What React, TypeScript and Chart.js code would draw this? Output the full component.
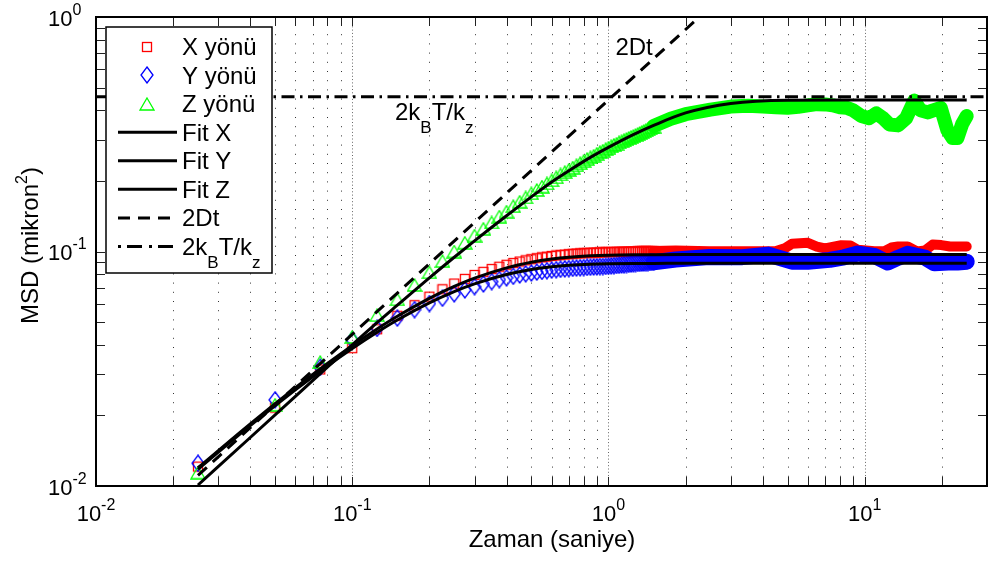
import React, { useEffect, useRef } from 'react';
import { Chart, registerables } from 'chart.js';
Chart.register(...registerables);

// ---------- data ----------
const markerTimes = [0.025, 0.05, 0.075, 0.1, 0.125, 0.15, 0.175, 0.2, 0.225, 0.25, 0.275, 0.3, 0.325, 0.35, 0.375, 0.4, 0.425, 0.45, 0.475, 0.5, 0.525, 0.55, 0.575, 0.6, 0.625, 0.65, 0.675, 0.7, 0.725, 0.75, 0.775, 0.8, 0.825, 0.85, 0.875, 0.9, 0.925, 0.95, 0.975, 1.0,
  1.025, 1.05, 1.075, 1.1, 1.125, 1.15, 1.175, 1.2, 1.225, 1.25, 1.275, 1.3, 1.325, 1.35, 1.375, 1.4, 1.425, 1.45, 1.475, 1.5];
const xYonu = [0.0121, 0.0216, 0.0314, 0.0387, 0.0466, 0.0532, 0.059, 0.0642, 0.069, 0.073, 0.0764, 0.0794, 0.0819, 0.0842, 0.0861, 0.0878, 0.0893, 0.0906, 0.0917, 0.0927, 0.0936, 0.0944, 0.095, 0.0957, 0.0962, 0.0966, 0.097, 0.0974, 0.0977, 0.098, 0.0982, 0.0984, 0.0986, 0.0988, 0.0989, 0.099, 0.0991, 0.0992, 0.0993, 0.0994,
  0.0995, 0.0996, 0.0997, 0.0997, 0.0998, 0.0998, 0.0999, 0.0999, 0.1, 0.1, 0.1, 0.1001, 0.1001, 0.1002, 0.1002, 0.1003, 0.1003, 0.1004, 0.1004, 0.1005];
const yYonu = [0.0125, 0.0233, 0.0321, 0.042, 0.047, 0.052, 0.0565, 0.06, 0.0632, 0.066, 0.0686, 0.0708, 0.0727, 0.0744, 0.0759, 0.0772, 0.0784, 0.0794, 0.0803, 0.081, 0.0817, 0.0823, 0.0828, 0.0833, 0.0836, 0.084, 0.0843, 0.0845, 0.0848, 0.085, 0.0852, 0.0854, 0.0856, 0.0857, 0.0859, 0.086, 0.0862, 0.0863, 0.0864, 0.0866,
  0.0868, 0.087, 0.0872, 0.0874, 0.0876, 0.0878, 0.088, 0.0882, 0.0884, 0.0886, 0.0888, 0.089, 0.0891, 0.0893, 0.0894, 0.0896, 0.0897, 0.0898, 0.0899, 0.09];
const zYonu = [0.0114, 0.0222, 0.0338, 0.0432, 0.0535, 0.0625, 0.072, 0.0815, 0.091, 0.1, 0.109, 0.117, 0.125, 0.133, 0.141, 0.148, 0.156, 0.163, 0.17, 0.177, 0.183, 0.189, 0.195, 0.201, 0.207, 0.213, 0.218, 0.223, 0.228, 0.233, 0.238, 0.243, 0.248, 0.252, 0.256, 0.261, 0.265, 0.269, 0.273, 0.277,
  0.281, 0.285, 0.288, 0.292, 0.295, 0.298, 0.302, 0.305, 0.308, 0.311, 0.314, 0.317, 0.32, 0.323, 0.326, 0.329, 0.332, 0.335, 0.338, 0.341];

// dense part of each series (markers merge into a band)
const bandTimesX = [1.5, 1.83, 2.47, 3.33, 4.48, 4.9, 5.2, 6.0, 6.5, 7.0, 8.1, 8.8, 9.4, 10.9, 12.0, 12.7, 13.5, 14.7, 16.0, 17.2, 18.4, 19.9, 21.5, 23.0, 25.0];
const bandX = [0.1005, 0.101, 0.1003, 0.1003, 0.1003, 0.1035, 0.1079, 0.1089, 0.105, 0.103, 0.1064, 0.106, 0.1017, 0.1003, 0.1005, 0.104, 0.105, 0.105, 0.1, 0.101, 0.107, 0.1065, 0.105, 0.105, 0.105];
const bandTimesY = [1.5, 1.83, 2.47, 3.33, 4.2, 5.2, 6.0, 7.3, 8.3, 9.4, 10.9, 12.3, 13.5, 14.7, 17.1, 18.7, 21.2, 23.0, 25.0];
const bandY = [0.09, 0.0924, 0.0947, 0.0946, 0.097, 0.0905, 0.0905, 0.0921, 0.0945, 0.098, 0.0958, 0.0897, 0.094, 0.0977, 0.0943, 0.089, 0.0897, 0.0897, 0.0905];
const bandTimesZ = [1.5, 1.75, 2.0, 2.5, 3.0, 3.5, 4.0, 4.5, 5.0, 5.5, 6.0, 6.5, 7.0, 7.5, 8.0, 8.5, 9.0, 9.7, 10.4, 11.1, 11.8, 12.5, 13.5, 14.5, 15.6, 16.5, 17.6, 18.5, 19.8, 21.0, 22.0, 23.0, 24.0, 25.0];
const bandZ = [0.343, 0.368, 0.385, 0.403, 0.415, 0.418, 0.415, 0.412, 0.41, 0.414, 0.42, 0.425, 0.424, 0.42, 0.412, 0.41, 0.4, 0.378, 0.37, 0.388, 0.37, 0.348, 0.345, 0.37, 0.44, 0.4, 0.392, 0.4, 0.41, 0.33, 0.305, 0.305, 0.35, 0.378];

const fitTimes = [0.025, 0.04, 0.06, 0.08, 0.1, 0.125, 0.15, 0.2, 0.25, 0.3, 0.4, 0.5, 0.6, 0.7, 0.85, 1.0, 1.25, 1.5, 2, 3, 5, 10, 25];
const fitX = [0.01196, 0.01842, 0.02627, 0.03334, 0.03969, 0.04676, 0.05295, 0.06315, 0.07098, 0.077, 0.08518, 0.09002, 0.09288, 0.09457, 0.09589, 0.0965, 0.09687, 0.09696, 0.09699, 0.097, 0.097, 0.097, 0.097];
const fitY = [0.01178, 0.01809, 0.0257, 0.0325, 0.03857, 0.04526, 0.05105, 0.06043, 0.0675, 0.07281, 0.07983, 0.0838, 0.08605, 0.08733, 0.08829, 0.0887, 0.08893, 0.08898, 0.089, 0.089, 0.089, 0.089, 0.089];
const fitZ = [0.0101, 0.0161, 0.0241, 0.0321, 0.04, 0.0497, 0.059, 0.0772, 0.0945, 0.111, 0.142, 0.171, 0.198, 0.221, 0.252, 0.278, 0.315, 0.345, 0.39, 0.428, 0.442, 0.443, 0.443];

const twoDtTimes = [0.025, 2.26];
const twoDtValues = [0.0111, 1.0];
const kTTimes = [0.01, 30];
const kTValues = [0.457, 0.457];

const xTickValues = [0.01, 0.1, 1, 10];
const xTickExps = ['-2', '-1', '0', '1'];
const yTickValues = [0.01, 0.1, 1];
const yTickExps = ['-2', '-1', '0'];
const xGridDecades = [0.01, 0.1, 1, 10];
const gridMultipliers = [1, 2, 3, 4, 5, 6, 7, 8, 9];
const yGridDecades = [0.01, 0.1];

const legendLabels = ['X yönü', 'Y yönü', 'Z yönü', 'Fit X', 'Fit Y', 'Fit Z', '2Dt'];
const xTitle = 'Zaman (saniye)';

// ---------- styling ----------
const FONT = '"Liberation Sans", Arial, Helvetica, sans-serif';
const SX = 1.0;
const RED = '#ff0000';
const BLUE = '#0000ff';
const GREEN = '#00ff00';
const DASH = [12, 8];
const DASHDOT = [13, 5.5, 2.5, 5.5];

type Run = { t: string; size: number; dy: number };

function runsWidth(ctx: CanvasRenderingContext2D, runs: Run[]) {
  let w = 0;
  for (const r of runs) {
    ctx.font = `${r.size}px ${FONT}`;
    w += ctx.measureText(r.t).width * SX;
  }
  return w;
}

function drawRuns(ctx: CanvasRenderingContext2D, runs: Run[], x: number, y: number, align: 'left' | 'center' | 'right') {
  const w = runsWidth(ctx, runs);
  let cx = align === 'left' ? x : align === 'center' ? x - w / 2 : x - w;
  ctx.textAlign = 'left';
  ctx.textBaseline = 'alphabetic';
  ctx.fillStyle = '#000';
  for (const r of runs) {
    ctx.font = `${r.size}px ${FONT}`;
    ctx.save();
    ctx.translate(cx, y + r.dy);
    ctx.scale(SX, 1);
    ctx.fillText(r.t, 0, 0);
    ctx.restore();
    cx += ctx.measureText(r.t).width * SX;
  }
}

function makeMarker(kind: 'square' | 'diamond' | 'triangle', color: string) {
  const c = document.createElement('canvas');
  const g = c.getContext('2d')!;
  const lw = 1.3;
  if (kind === 'square') {
    c.width = 12; c.height = 12;
    g.strokeStyle = color; g.lineWidth = lw;
    g.strokeRect(1.5, 1.5, 9, 9);
  } else if (kind === 'diamond') {
    c.width = 14; c.height = 18;
    g.strokeStyle = color; g.lineWidth = lw;
    g.beginPath(); g.moveTo(7, 1); g.lineTo(13, 9); g.lineTo(7, 17); g.lineTo(1, 9); g.closePath(); g.stroke();
  } else {
    c.width = 16; c.height = 14;
    g.strokeStyle = color; g.lineWidth = lw;
    g.beginPath(); g.moveTo(8, 1); g.lineTo(15, 13); g.lineTo(1, 13); g.closePath(); g.stroke();
  }
  return c;
}

const pts = (xs: number[], ys: number[]) => xs.map((x, i) => ({ x, y: ys[i] }));

export default function App() {
  const ref = useRef<HTMLCanvasElement>(null);
  useEffect(() => {
    const sq = makeMarker('square', RED);
    const di = makeMarker('diamond', BLUE);
    const tr = makeMarker('triangle', GREEN);

    const decor = {
      id: 'decor',
      beforeDatasetsDraw(chart: any) {
        const { ctx, chartArea: a, scales } = chart;
        const xs = scales.x;
        ctx.save();
        ctx.lineWidth = 1;
        for (const d of xGridDecades) {
          for (const m of gridMultipliers) {
            const v = d * m;
            if (v <= 0.01 || v >= 30) continue;
            const px = Math.round(xs.getPixelForValue(v)) + 0.5;
            ctx.strokeStyle = m === 1 ? '#666' : '#333';
            ctx.setLineDash(m === 1 ? [1, 2.3] : [1, 8.2]);
            ctx.beginPath(); ctx.moveTo(px, a.bottom); ctx.lineTo(px, a.top); ctx.stroke();
          }
        }
        ctx.restore();
      },
      afterDatasetsDraw(chart: any) {
        const { ctx, chartArea: a, scales } = chart;
        const xs = scales.x; const ys = scales.y;
        ctx.save();
        // ticks
        ctx.setLineDash([]);
        ctx.strokeStyle = '#222';
        ctx.lineWidth = 1;
        const TL = 9;
        for (const d of xGridDecades) {
          for (const m of gridMultipliers) {
            const v = d * m;
            if (v <= 0.01 || v >= 30) continue;
            const px = Math.round(xs.getPixelForValue(v)) + 0.5;
            ctx.beginPath();
            ctx.moveTo(px, a.bottom); ctx.lineTo(px, a.bottom - TL);
            ctx.moveTo(px, a.top); ctx.lineTo(px, a.top + TL);
            ctx.stroke();
          }
        }
        for (const d of yGridDecades) {
          for (const m of gridMultipliers) {
            const v = d * m;
            if (v <= 0.01 || v >= 1) continue;
            const py = Math.round(ys.getPixelForValue(v)) + 0.5;
            ctx.beginPath();
            ctx.moveTo(a.left, py); ctx.lineTo(a.left + TL, py);
            ctx.moveTo(a.right, py); ctx.lineTo(a.right - TL, py);
            ctx.stroke();
          }
        }
        // axes box
        ctx.strokeStyle = '#000';
        ctx.lineWidth = 2;
        ctx.strokeRect(a.left, a.top, a.right - a.left, a.bottom - a.top);

        // annotations
        drawRuns(ctx, [{ t: '2Dt', size: 24, dy: 0 }], xs.getPixelForValue(1.064), ys.getPixelForValue(0.689), 'left');
        drawRuns(ctx, [
          { t: '2k', size: 24, dy: 0 }, { t: 'B', size: 17, dy: 13 },
          { t: 'T/k', size: 24, dy: 0 }, { t: 'z', size: 17, dy: 13 },
        ], xs.getPixelForValue(0.1468), ys.getPixelForValue(0.364), 'left');

        // legend
        const lx = a.left + 10, ly = a.top + 10, lw = 166, lh = 246;
        ctx.fillStyle = '#fff';
        ctx.fillRect(lx, ly, lw, lh);
        ctx.strokeStyle = '#000';
        ctx.lineWidth = 1.5;
        ctx.strokeRect(lx, ly, lw, lh);
        const items: any[] = [
          { kind: 'marker', img: sq }, { kind: 'marker', img: di }, { kind: 'marker', img: tr },
          { kind: 'line', dash: [] }, { kind: 'line', dash: [] }, { kind: 'line', dash: [] },
          { kind: 'line', dash: DASH }, { kind: 'line', dash: [3, 6, 15, 7] },
        ];
        items.forEach((it, i) => {
          const base = ly + 28 + i * 28.57;
          const cy = base - 8.5;
          if (it.kind === 'marker') {
            ctx.drawImage(it.img, Math.round(lx + 41 - it.img.width / 2), Math.round(cy - it.img.height / 2));
          } else {
            ctx.strokeStyle = '#000';
            ctx.lineWidth = 3;
            ctx.setLineDash(it.dash);
            ctx.beginPath(); ctx.moveTo(lx + 12, cy); ctx.lineTo(lx + 71, cy); ctx.stroke();
            ctx.setLineDash([]);
          }
          if (i < legendLabels.length) {
            drawRuns(ctx, [{ t: legendLabels[i], size: 24, dy: 0 }], lx + 76, base, 'left');
          } else {
            drawRuns(ctx, [
              { t: '2k', size: 24, dy: 0 }, { t: 'B', size: 17, dy: 13 },
              { t: 'T/k', size: 24, dy: 0 }, { t: 'z', size: 17, dy: 13 },
            ], lx + 76, base, 'left');
          }
        });

        // tick labels
        xTickValues.forEach((v, i) => {
          drawRuns(ctx, [{ t: '10', size: 22, dy: 0 }, { t: xTickExps[i], size: 16, dy: -11 }], xs.getPixelForValue(v), a.bottom + 35, 'center');
        });
        yTickValues.forEach((v, i) => {
          drawRuns(ctx, [{ t: '10', size: 22, dy: 0 }, { t: yTickExps[i], size: 16, dy: -11 }], a.left - 48, ys.getPixelForValue(v) + 8.5, 'left');
        });

        // axis titles
        drawRuns(ctx, [{ t: xTitle, size: 24, dy: 0 }], a.left + 456, a.bottom + 61, 'center');
        ctx.save();
        ctx.translate(37.5, a.top + 228.5);
        ctx.rotate(-Math.PI / 2);
        drawRuns(ctx, [{ t: 'MSD (mikron', size: 24, dy: 0 }, { t: '2', size: 16, dy: -11 }, { t: ')', size: 24, dy: 0 }], 0, 0, 'center');
        ctx.restore();
        ctx.restore();
      },
    };

    const markerDs = (label: string, xs: number[], ys: number[], img: HTMLCanvasElement, order: number) => ({
      label, data: pts(xs, ys), showLine: false, pointStyle: img, pointRadius: 5, order, clip: 0,
      borderColor: 'transparent', backgroundColor: 'transparent',
    });
    const bandDs = (label: string, xs: number[], ys: number[], color: string, w: number, order: number) => ({
      label, data: pts(xs, ys), borderColor: color, borderWidth: w, pointRadius: 0, order, clip: 0,
      borderJoinStyle: 'round', borderCapStyle: 'round', tension: 0,
    });
    const lineDs = (label: string, xs: number[], ys: number[], dash: number[], order: number, mono: boolean) => ({
      label, data: pts(xs, ys), borderColor: '#000', borderWidth: 3, pointRadius: 0, order, clip: 0,
      borderDash: dash, cubicInterpolationMode: mono ? 'monotone' : 'default', tension: 0,
    });

    const chart = new Chart(ref.current!, {
      type: 'line',
      data: {
        datasets: [
          markerDs('X yönü', markerTimes, xYonu, sq, 10) as any,
          bandDs('X yönü band', bandTimesX, bandX, RED, 10, 10),
          markerDs('Y yönü', markerTimes, yYonu, di, 9),
          bandDs('Y yönü band', bandTimesY, bandY, BLUE, 16, 9),
          markerDs('Z yönü', markerTimes, zYonu, tr, 8),
          bandDs('Z yönü band', bandTimesZ, bandZ, GREEN, 14, 8),
          lineDs('Fit X', fitTimes, fitX, [], 5, true),
          lineDs('Fit Y', fitTimes, fitY, [], 5, true),
          lineDs('Fit Z', fitTimes, fitZ, [], 5, true),
          lineDs('2Dt', twoDtTimes, twoDtValues, DASH, 4, false),
          lineDs('2kBT/kz', kTTimes, kTValues, DASHDOT, 3, false),
        ],
      },
      options: {
        animation: false,
        responsive: false,
        devicePixelRatio: 1,
        parsing: true,
        layout: { padding: { left: 96, top: 17, right: 1, bottom: 75 } },
        plugins: { legend: { display: false }, tooltip: { enabled: false } },
        scales: {
          x: { type: 'logarithmic', min: 0.01, max: 30, display: false },
          y: { type: 'logarithmic', min: 0.01, max: 1, display: false },
        },
      } as any,
      plugins: [decor],
    });
    return () => chart.destroy();
  }, []);

  return (
    <div style={{ position: 'fixed', left: 0, top: 0, width: 993, height: 561, background: '#fff' }}>
      <canvas ref={ref} width={993} height={561} style={{ display: 'block', width: 993, height: 561 }} />
    </div>
  );
}
